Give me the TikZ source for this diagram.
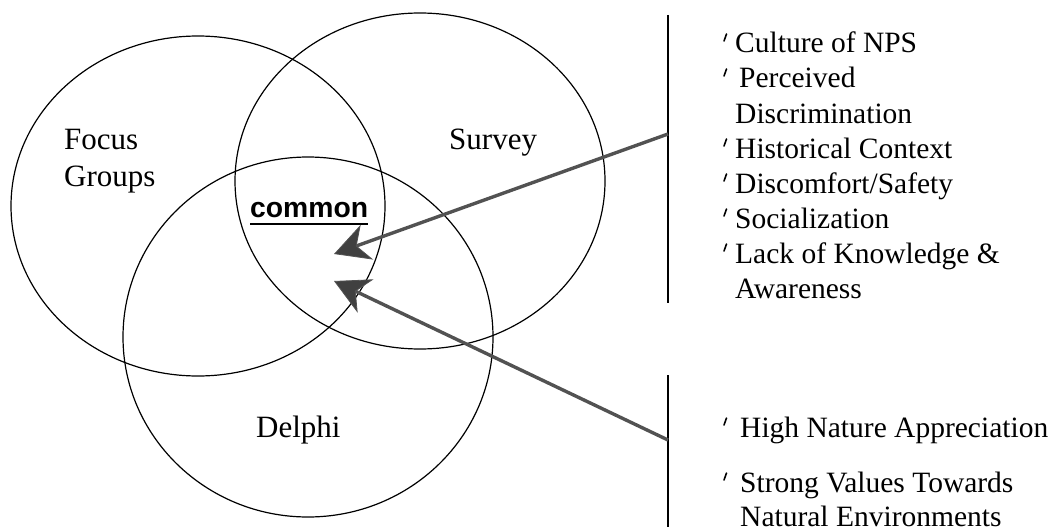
\documentclass[tikz,border=0pt]{standalone}
\usepackage{fontspec}
\setmainfont{Liberation Serif}
\newfontfamily\arialfont{Liberation Sans}
\usetikzlibrary{arrows.meta,shapes.geometric}
\tikzset{
  venn/.style={ellipse, draw=black, line width=1.2pt, inner sep=0pt},
  setlabel/.style={anchor=base west, inner sep=0pt, font=\fontsize{31}{37}\selectfont},
  listtext/.style={anchor=base west, inner sep=0pt, font=\fontsize{29.5}{35}\selectfont},
  bracket/.style={line width=1.2pt, draw=black},
  bigarrow/.style={draw=black!68, line width=3.4pt,
    -{Stealth[length=35pt, width=37pt, inset=11pt, fill=black!75, line width=0.8pt]}},
  tickmark/.style={line width=1.6pt, line cap=round},
}
\begin{document}
\begin{tikzpicture}[x=1pt, y=-1pt]
\useasboundingbox (0,0) rectangle (1048,532);
% circles
\node[venn, minimum width=374pt, minimum height=340pt] (focus) at (198,206) {};
\node[venn, minimum width=370pt, minimum height=336pt] (survey) at (420,181) {};
\node[venn, minimum width=370pt, minimum height=360pt] (delphi) at (308,337) {};
% labels
\node[setlabel] (lfocus) at (64,149) {Focus};
\node[setlabel] (lgroups) at (64,186) {Groups};
\node[setlabel] (lsurvey) at (449,149) {Survey};
\node[setlabel] (ldelphi) at (256,437) {Delphi};
\node[anchor=base west, inner sep=0pt, font=\arialfont\bfseries\fontsize{28.3}{34}\selectfont] (common) at (250,217) {common};
\draw[line width=2pt] ([yshift=-7pt]common.base west) -- ([yshift=-7pt]common.base east);
% brackets
\coordinate (b1top) at (668,15);
\coordinate (b1bot) at (668,303);
\coordinate (b2top) at (668,375);
\coordinate (b2bot) at (668,527);
\draw[bracket] (b1top) -- (b1bot);
\draw[bracket] (b2top) -- (b2bot);
% list 1
\node[listtext] (i1) at (735,53) {Culture of NPS};
\node[listtext] (i2) at (739,88) {Perceived};
\node[listtext] (i2b) at (735,123) {Discrimination};
\node[listtext] (i3) at (735,158) {Historical Context};
\node[listtext] (i4) at (735,193) {Discomfort/Safety};
\node[listtext] (i5) at (735,228) {Socialization};
\node[listtext] (i6) at (735,263) {Lack of Knowledge \&};
\node[listtext] (i6b) at (735,298) {Awareness};
% list 2
\node[listtext] (j1) at (740,437) {High Nature Appreciation};
\node[listtext] (j2) at (740,492) {Strong Values Towards};
\node[listtext] (j2b) at (740,526) {Natural Environments};
% bullets
\foreach \b in {53,88,158,193,228,263,437,492}{
  \draw[tickmark] (724,\b-12) -- (726.5,\b-19);
}
% arrows
\coordinate (s1) at (668,134);
\coordinate (t1) at (334,254);
\coordinate (s2) at (668,440);
\coordinate (t2) at (334,281);
\draw[bigarrow] (s1) -- (t1);
\draw[bigarrow] (s2) -- (t2);
\end{tikzpicture}
\end{document}
